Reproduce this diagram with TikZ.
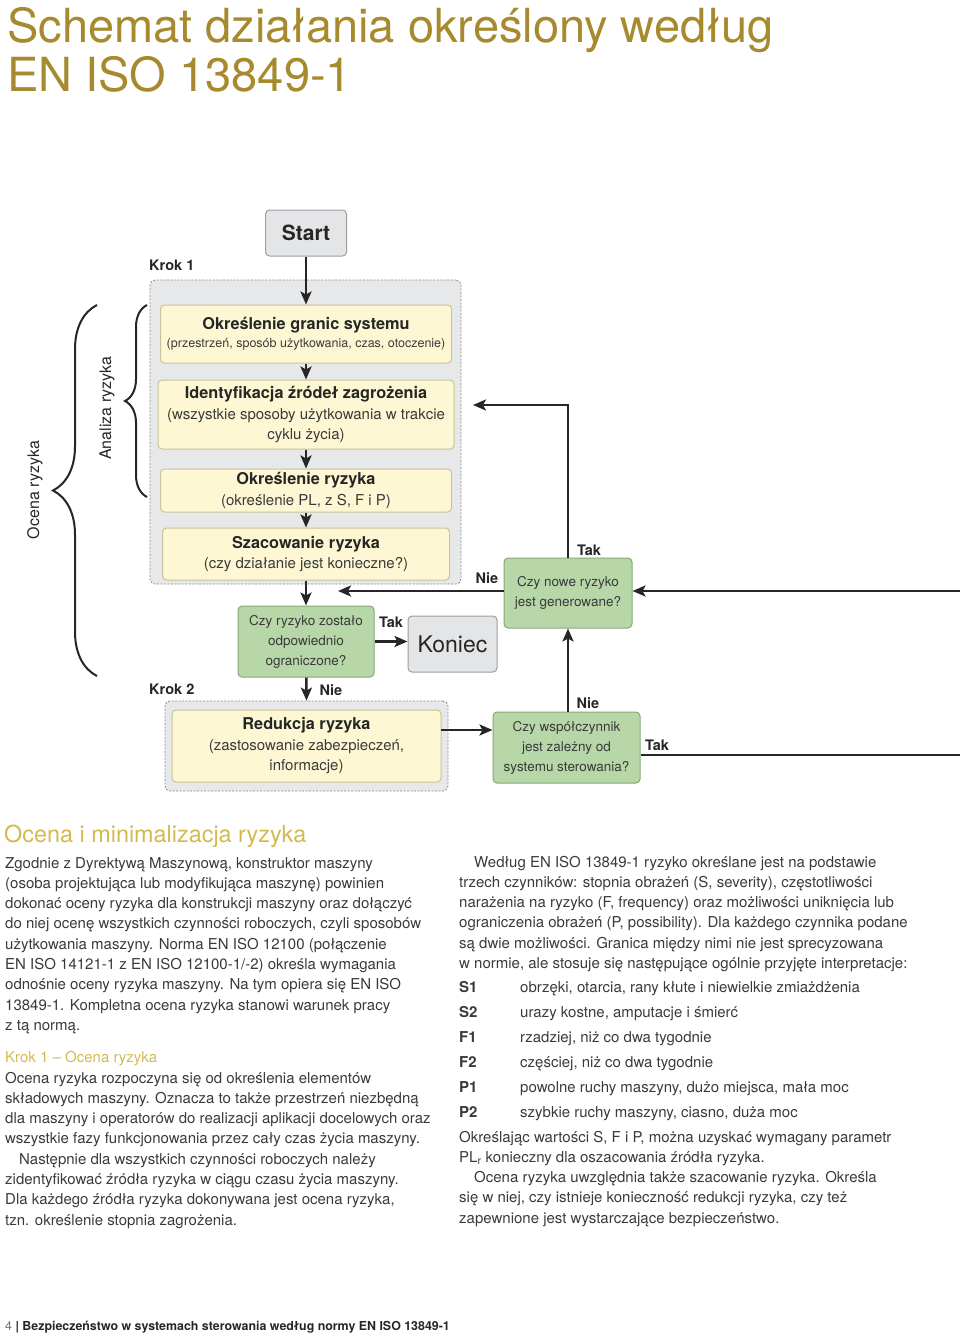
\documentclass[tikz,border=0pt]{standalone}
\usepackage{fontspec}
\setmainfont{TeX Gyre Heros}
\usetikzlibrary{arrows.meta,decorations.pathreplacing}

\definecolor{Gold}{HTML}{A88A2E}
\definecolor{GoldLight}{HTML}{D3BA4F}
\definecolor{Ink}{HTML}{3A3A3A}
\definecolor{Note}{HTML}{FDF8D3}
\definecolor{NoteLine}{HTML}{C8C39A}
\definecolor{Ask}{HTML}{B7D7A8}
\definecolor{AskLine}{HTML}{84A877}
\definecolor{Term}{HTML}{E4E5E7}
\definecolor{TermLine}{HTML}{9C9EA1}
\definecolor{Step}{HTML}{E7E8E9}
\definecolor{StepLine}{HTML}{8A8C8F}

\begin{document}
\begin{tikzpicture}[x=1pt, y=-1pt,
  frame/.style={draw=StepLine, fill=Step, dashed, dash pattern=on 2pt off 1.5pt, line width=0.8pt, rounded corners=5pt, inner sep=0pt},
  note/.style={draw=NoteLine, fill=Note, line width=1pt, rounded corners=4pt, inner sep=0pt, align=center, text=Ink, font=\fontsize{15}{20.5}\selectfont},
  ask/.style={draw=AskLine, fill=Ask, line width=1pt, rounded corners=4pt, inner sep=0pt, align=center, text=Ink, font=\fontsize{13.5}{20}\selectfont},
  term/.style={draw=TermLine, fill=Term, line width=1pt, rounded corners=4pt, inner sep=0pt, text=black!85},
  flag/.style={inner sep=0pt, text=black!85, font=\fontsize{14.5}{16}\selectfont\bfseries},
  arr/.style={line width=2.5pt, draw=black!85, -{Stealth[length=13pt, width=11pt, inset=3pt]}},
  wire/.style={line width=2.5pt, draw=black!85},
  curly/.style={decorate, line width=2pt, draw=black!85},
  body/.style={anchor=base west, inner sep=0pt, align=left, text=Ink, font=\fontsize{15}{20.3}\selectfont}]

 \useasboundingbox (0,0) rectangle (960,1333);

 %%%%%%%%%% Points pour le schema %%%%%%%%%%
 \coordinate (0) at (306,233);
 \coordinate (1) at (305.5,432);
 \coordinate (2) at (306,334);
 \coordinate (3) at (306,414.5);
 \coordinate (4) at (306,490.5);
 \coordinate (5) at (306,554);
 \coordinate (6) at (306,641.5);
 \coordinate (7) at (452.5,644);
 \coordinate (8) at (306.5,746);
 \coordinate (9) at (566.5,747.5);
 \coordinate (10) at (568,593);

 \coordinate (11) at (441,730);
 \coordinate (12) at (960,755);
 \coordinate (13) at (960,591);
 \coordinate (14) at (338,591);
 \coordinate (15) at (473,405);

 \coordinate (16) at (147,305);
 \coordinate (17) at (147,497);
 \coordinate (18) at (97,305);
 \coordinate (19) at (97,676);

 %%%%%%%%%% Title %%%%%%%%%%
 \node[anchor=base west, inner sep=0pt, text=Gold, font=\fontsize{47}{49}\selectfont] (title1) at (7,42) {Schemat działania określony według};
 \node[anchor=base west, inner sep=0pt, text=Gold, font=\fontsize{47}{49}\selectfont] (title2) at (7,91) {EN ISO 13849-1};

 %%%%%%%%%% Frames Krok 1 / Krok 2 %%%%%%%%%%
 \node[frame, minimum width=311, minimum height=304] (krok1) at (1) {};
 \node[frame, minimum width=283, minimum height=90] (krok2) at (8) {};
 \node[flag, anchor=west] (krok1lab) at (149,265) {Krok 1};
 \node[flag, anchor=west] (krok2lab) at (149,689) {Krok 2};

 %%%%%%%%%% Boxes %%%%%%%%%%
 \node[term, minimum width=81, minimum height=46, font=\fontsize{21}{24}\selectfont\bfseries] (start) at (0) {Start};
 \node[note, minimum width=291, minimum height=58, font=\fontsize{15}{18}\selectfont] (granice) at (2)
   {{\fontsize{16.3}{18}\selectfont\bfseries\color{black!85}Określenie granic systemu}\\{\fontsize{12.5}{18}\selectfont(przestrzeń, sposób użytkowania, czas, otoczenie)}};
 \node[note, minimum width=296, minimum height=69] (zrodla) at (3)
   {{\fontsize{16.3}{20.5}\selectfont\bfseries\color{black!85}Identyfikacja źródeł zagrożenia}\\(wszystkie sposoby użytkowania w trakcie\\cyklu życia)};
 \node[note, minimum width=291, minimum height=43] (ryzyko) at (4)
   {{\fontsize{16.3}{20.5}\selectfont\bfseries\color{black!85}Określenie ryzyka}\\(określenie PL, z S, F i P)};
 \node[note, minimum width=287, minimum height=52] (szacowanie) at (5)
   {{\fontsize{16.3}{20.5}\selectfont\bfseries\color{black!85}Szacowanie ryzyka}\\(czy działanie jest konieczne?)};
 \node[ask, minimum width=136, minimum height=71] (ograniczone) at (6) {Czy ryzyko zostało\\odpowiednio\\ograniczone?};
 \node[term, minimum width=89, minimum height=56, font=\fontsize{23}{26}\selectfont] (koniec) at (7) {Koniec};
 \node[note, minimum width=269, minimum height=72] (redukcja) at (8)
   {{\fontsize{16.3}{20.5}\selectfont\bfseries\color{black!85}Redukcja ryzyka}\\(zastosowanie zabezpieczeń,\\informacje)};
 \node[ask, minimum width=147, minimum height=71] (wspolczynnik) at (9) {Czy współczynnik\\jest zależny od\\systemu sterowania?};
 \node[ask, minimum width=128, minimum height=70] (nowe) at (10) {Czy nowe ryzyko\\jest generowane?};

 %%%%%%%%%% Arrows %%%%%%%%%%
 \draw[arr] (start) -- (granice);
 \draw[arr] (granice) -- (zrodla);
 \draw[arr] (zrodla) -- (ryzyko);
 \draw[arr] (ryzyko) -- (szacowanie);
 \draw[arr] (szacowanie) -- (ograniczone);
 \draw[arr] (ograniczone.east) -- (ograniczone.east -| koniec.west);
 \draw[arr] (ograniczone) -- (krok2.north);
 \draw[arr] (11) -- (11 -| wspolczynnik.west);
 \draw[arr] (nowe.south |- wspolczynnik.north) -- (nowe.south);
 \draw[wire] (wspolczynnik.east |- 12) -- (12);
 \draw[arr] (13) -- (13 -| nowe.east);
 \draw[arr] (nowe.west |- 14) -- (14);
 \draw[arr] (nowe.north) -- (nowe.north |- 15) -- (15);

 % Tak / Nie
 \node[flag] (tak1) at (391,622) {Tak};
 \node[flag] (nie1) at (331,690) {Nie};
 \node[flag] (nie2) at (487,578) {Nie};
 \node[flag] (tak2) at (589,550) {Tak};
 \node[flag] (nie3) at (588,703) {Nie};
 \node[flag] (tak3) at (657,745) {Tak};

 %%%%%%%%%% Braces %%%%%%%%%%
 \draw[curly, decoration={brace, amplitude=22pt}] (17) -- (16);
 \draw[curly, decoration={brace, amplitude=44pt}] (19) -- (18);
 \node[rotate=90, inner sep=0pt, text=black!85, font=\fontsize{16}{18}\selectfont] (analiza) at (107,408) {Analiza ryzyka};
 \node[rotate=90, inner sep=0pt, text=black!85, font=\fontsize{16}{18}\selectfont] (ocena) at (35,490) {Ocena ryzyka};

 %%%%%%%%%% Text, left column %%%%%%%%%%
 % (base = last line of each block)
 \node[anchor=base west, inner sep=0pt, text=GoldLight, font=\fontsize{23.4}{28}\selectfont] (head) at (4,842) {Ocena i minimalizacja ryzyka};
 \node[body] (par1) at (5,1030.4) {Zgodnie z Dyrektywą Maszynową, konstruktor maszyny\\
(osoba projektująca lub modyfikująca maszynę) powinien\\
dokonać oceny ryzyka dla konstrukcji maszyny oraz dołączyć\\
do niej ocenę wszystkich czynności roboczych, czyli sposobów\\
użytkowania maszyny. Norma EN ISO 12100 (połączenie\\
EN ISO 14121-1 z EN ISO 12100-1/-2) określa wymagania\\
odnośnie oceny ryzyka maszyny. Na tym opiera się EN ISO\\
13849-1. Kompletna ocena ryzyka stanowi warunek pracy\\
z tą normą.};
 \node[body, text=GoldLight] (krok1head) at (5,1062) {Krok 1 -- Ocena ryzyka};
 \node[body] (par2) at (5,1225.1) {Ocena ryzyka rozpoczyna się od określenia elementów\\
składowych maszyny. Oznacza to także przestrzeń niezbędną\\
dla maszyny i operatorów do realizacji aplikacji docelowych oraz\\
wszystkie fazy funkcjonowania przez cały czas życia maszyny.\\
\hspace*{14pt}Następnie dla wszystkich czynności roboczych należy\\
zidentyfikować źródła ryzyka w ciągu czasu życia maszyny.\\
Dla każdego źródła ryzyka dokonywana jest ocena ryzyka,\\
tzn. określenie stopnia zagrożenia.};

 %%%%%%%%%% Text, right column %%%%%%%%%%
 \node[body] (par3) at (459,968.5) {\hspace*{15pt}Według EN ISO 13849-1 ryzyko określane jest na podstawie\\
trzech czynników: stopnia obrażeń (S, severity), częstotliwości\\
narażenia na ryzyko (F, frequency) oraz możliwości uniknięcia lub\\
ograniczenia obrażeń (P, possibility). Dla każdego czynnika podane\\
są dwie możliwości. Granica między nimi nie jest sprecyzowana\\
w normie, ale stosuje się następujące ogólnie przyjęte interpretacje:};
 \node[body, font=\fontsize{15}{25}\selectfont] (lista) at (459,1117) {\makebox[61pt][l]{\bfseries S1}obrzęki, otarcia, rany kłute i niewielkie zmiażdżenia\\
\makebox[61pt][l]{\bfseries S2}urazy kostne, amputacje i śmierć\\
\makebox[61pt][l]{\bfseries F1}rzadziej, niż co dwa tygodnie\\
\makebox[61pt][l]{\bfseries F2}częściej, niż co dwa tygodnie\\
\makebox[61pt][l]{\bfseries P1}powolne ruchy maszyny, dużo miejsca, mała moc\\
\makebox[61pt][l]{\bfseries P2}szybkie ruchy maszyny, ciasno, duża moc};
 \node[body] (par4) at (459,1223.2) {Określając wartości S, F i P, można uzyskać wymagany parametr\\
PL\textsubscript{r} konieczny dla oszacowania źródła ryzyka.\\
\hspace*{15pt}Ocena ryzyka uwzględnia także szacowanie ryzyka. Określa\\
się w niej, czy istnieje konieczność redukcji ryzyka, czy też\\
zapewnione jest wystarczające bezpieczeństwo.};

 %%%%%%%%%% Footer %%%%%%%%%%
 \node[anchor=base west, inner sep=0pt, text=black!85, font=\fontsize{12.4}{14}\selectfont] (stopka) at (5,1330)
   {\textcolor{black!55}{4} \textbf{| Bezpieczeństwo w systemach sterowania według normy EN ISO 13849-1}};

\end{tikzpicture}
\end{document}
